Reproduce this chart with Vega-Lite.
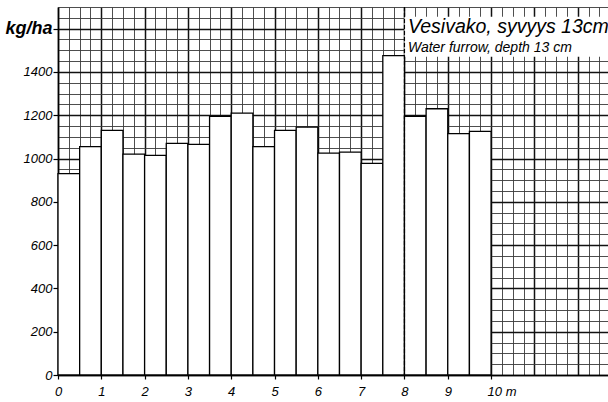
{
  "$schema": "https://vega.github.io/schema/vega-lite/v6.json",
  "width": 550,
  "height": 368,
  "autosize": {"type": "none"},
  "padding": {"left": 58, "top": 7, "right": 0, "bottom": 27},
  "background": "white",
  "config": {"view": {"stroke": null}},
  "data": {
    "values": [
      {"from": 0, "to": 0.5, "yield": 930},
      {"from": 0.5, "to": 1, "yield": 1055},
      {"from": 1, "to": 1.5, "yield": 1130},
      {"from": 1.5, "to": 2, "yield": 1020},
      {"from": 2, "to": 2.5, "yield": 1015},
      {"from": 2.5, "to": 3, "yield": 1070},
      {"from": 3, "to": 3.5, "yield": 1065},
      {"from": 3.5, "to": 4, "yield": 1195},
      {"from": 4, "to": 4.5, "yield": 1210},
      {"from": 4.5, "to": 5, "yield": 1055},
      {"from": 5, "to": 5.5, "yield": 1130},
      {"from": 5.5, "to": 6, "yield": 1145},
      {"from": 6, "to": 6.5, "yield": 1025},
      {"from": 6.5, "to": 7, "yield": 1030},
      {"from": 7, "to": 7.5, "yield": 978},
      {"from": 7.5, "to": 8, "yield": 1475},
      {"from": 8, "to": 8.5, "yield": 1195},
      {"from": 8.5, "to": 9, "yield": 1230},
      {"from": 9, "to": 9.5, "yield": 1115},
      {"from": 9.5, "to": 10, "yield": 1125}
    ]
  },
  "resolve": {"axis": {"x": "independent", "y": "independent"}},
  "layer": [
    {
      "data": {"values": [{}]},
      "mark": {"type": "point", "opacity": 0},
      "encoding": {
        "x": {
          "datum": 0,
          "type": "quantitative",
          "scale": {"domain": [0, 12.7], "nice": false, "zero": false},
          "axis": {
            "orient": "bottom",
            "title": null,
            "values": [0.25,0.5,0.75,1.25,1.5,1.75,2.25,2.5,2.75,3.25,3.5,3.75,4.25,4.5,4.75,5.25,5.5,5.75,6.25,6.5,6.75,7.25,7.5,7.75,8.25,8.5,8.75,9.25,9.5,9.75,10.25,10.5,10.75,11.25,11.5,11.75,12.25,12.5],
            "grid": true,
            "gridOpacity": 1,
            "gridColor": "#3a3a3a",
            "gridWidth": 0.9,
            "domain": false,
            "ticks": false,
            "labels": false
          }
        },
        "y": {
          "datum": 0,
          "type": "quantitative",
          "scale": {"domain": [0, 1700], "nice": false},
          "axis": {
            "orient": "left",
            "title": null,
            "values": [50,100,150,250,300,350,450,500,550,650,700,750,850,900,950,1050,1100,1150,1250,1300,1350,1450,1500,1550,1650,1700],
            "grid": true,
            "gridOpacity": 1,
            "gridColor": "#3a3a3a",
            "gridWidth": 0.9,
            "domain": false,
            "ticks": false,
            "labels": false
          }
        }
      }
    },
    {
      "mark": {"type": "rect", "fill": "white", "stroke": "black", "strokeWidth": 1.3},
      "encoding": {
        "x": {
          "field": "from",
          "type": "quantitative",
          "axis": {
            "orient": "bottom",
            "title": null,
            "values": [0,1,2,3,4,5,6,7,8,9,10,11,12],
            "grid": true,
            "gridOpacity": 1,
            "gridColor": "#111111",
            "gridWidth": 1.5,
            "domainColor": "black",
            "domainWidth": 1.5,
            "tickColor": {"condition": {"test": "datum.value <= 10", "value": "black"}, "value": "transparent"},
            "tickWidth": 1.2,
            "tickSize": 4,
            "labelExpr": "datum.value <= 10 ? (datum.value == 10 ? '10 m' : '' + datum.value) : ''",
            "labelAlign": {"condition": {"test": "datum.value == 10", "value": "left"}, "value": "center"},
            "labelOffset": {"condition": {"test": "datum.value == 10", "value": -4}, "value": 0},
            "labelFont": "Liberation Sans",
            "labelFontStyle": "italic",
            "labelFontSize": 13,
            "labelColor": "black",
            "labelPadding": 6,
            "labelOverlap": false,
            "labelFlush": false,
            "labelBound": false
          }
        },
        "x2": {"field": "to"},
        "y": {
          "field": "yield",
          "type": "quantitative",
          "axis": {
            "orient": "left",
            "title": null,
            "values": [0,200,400,600,800,1000,1200,1400,1600],
            "format": "d",
            "grid": true,
            "gridOpacity": 1,
            "gridColor": "#111111",
            "gridWidth": 1.5,
            "domainColor": "black",
            "domainWidth": 1.5,
            "tickColor": "black",
            "tickWidth": 1.2,
            "tickSize": 5,
            "labelExpr": "datum.value == 1600 ? 'kg/ha' : datum.label",
            "labelFont": "Liberation Sans",
            "labelFontStyle": "italic",
            "labelFontSize": {"condition": {"test": "datum.value == 1600", "value": 18}, "value": 13},
            "labelFontWeight": {"condition": {"test": "datum.value == 1600", "value": "bold"}, "value": "normal"},
            "labelColor": "black",
            "labelPadding": 1,
            "labelOverlap": false,
            "labelFlush": false,
            "labelBound": false
          }
        }
      }
    },
    {
      "data": {"values": [{}]},
      "mark": {"type": "rect", "fill": "white", "stroke": null},
      "encoding": {
        "x": {"datum": 8, "type": "quantitative", "axis": null},
        "x2": {"datum": 12.7},
        "y": {"datum": 1470, "type": "quantitative", "axis": null},
        "y2": {"datum": 1655}
      }
    },
    {
      "data": {"values": [{}]},
      "mark": {"type": "text", "text": "Vesivako, syvyys 13cm", "font": "Liberation Sans", "fontStyle": "italic", "fontSize": 19.5, "align": "left", "baseline": "alphabetic", "color": "black"},
      "encoding": {
        "x": {"datum": 8.08, "type": "quantitative", "axis": null},
        "y": {"datum": 1582, "type": "quantitative", "axis": null}
      }
    },
    {
      "data": {"values": [{}]},
      "mark": {"type": "text", "text": "Water furrow, depth 13 cm", "font": "Liberation Sans", "fontStyle": "italic", "fontSize": 14, "align": "left", "baseline": "alphabetic", "color": "black"},
      "encoding": {
        "x": {"datum": 8.08, "type": "quantitative", "axis": null},
        "y": {"datum": 1492, "type": "quantitative", "axis": null}
      }
    },
    {
      "data": {"values": [{}]},
      "mark": {"type": "rule", "color": "black", "strokeWidth": 1.2, "strokeDash": [4, 2]},
      "encoding": {
        "x": {"datum": 8, "type": "quantitative", "axis": null}
      }
    }
  ]
}
